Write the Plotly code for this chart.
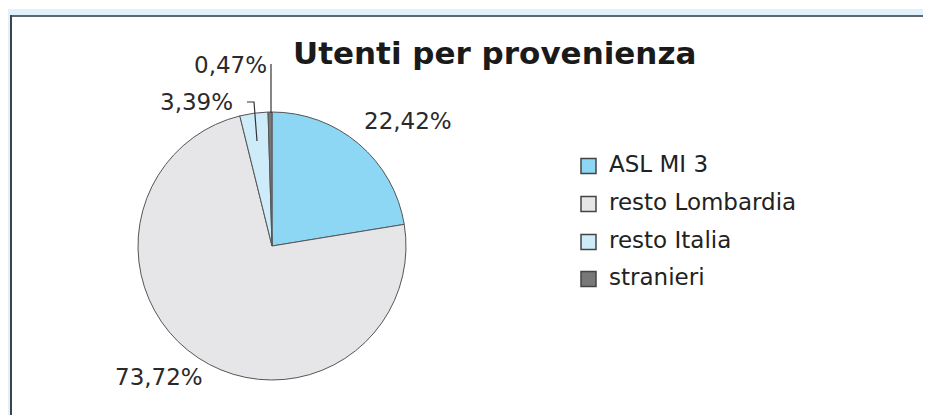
import math
import plotly.graph_objects as go

categories = ["ASL MI 3", "resto Lombardia", "resto Italia", "stranieri"]
shares = [22.42, 73.72, 3.39, 0.47]
label_texts = ["22,42%", "73,72%", "3,39%", "0,47%"]
colors = ["#8DD7F4", "#E6E6E8", "#CDEBF9", "#787878"]

# page body has an 8px default margin -> work in figure pixels
OFF = 8
W, H = 931 - OFF, 415 - OFF


def fx(x):
    return (x - OFF) / W


def fy(y):
    return 1 - (y - OFF) / H


cx, cy, r = 272, 246, 134  # pie centre/radius in screen px

fig = go.Figure(go.Pie(
    labels=categories,
    values=shares,
    textinfo="none",
    sort=False,
    direction="clockwise",
    rotation=0,
    marker=dict(colors=colors, line=dict(color="#555555", width=1)),
    domain=dict(x=[fx(cx - r), fx(cx + r)], y=[fy(cy + r), fy(cy - r)]),
    hoverinfo="label+percent",
    showlegend=False,
))

shapes = [
    # light-blue outer frame band
    dict(type="rect", xref="paper", yref="paper", x0=0, x1=1, y0=fy(15), y1=fy(9),
         fillcolor="#DFF1FB", line=dict(width=0), layer="below"),
    dict(type="rect", xref="paper", yref="paper", x0=0, x1=fx(10), y0=0, y1=fy(9),
         fillcolor="#DFF1FB", line=dict(width=0), layer="below"),
    # dark inner border
    dict(type="rect", xref="paper", yref="paper", x0=fx(10), x1=1, y0=fy(17), y1=fy(15),
         fillcolor="#5F666E", line=dict(width=0)),
    dict(type="rect", xref="paper", yref="paper", x0=fx(10), x1=fx(12), y0=0, y1=fy(15),
         fillcolor="#3E4349", line=dict(width=0)),
]

annotations = [dict(text="<b>Utenti per provenienza</b>", xref="paper", yref="paper",
                    x=fx(494), y=fy(66), xanchor="center", yanchor="bottom", yshift=-7,
                    showarrow=False,
                    font=dict(family="DejaVu Sans", size=31, color="#1a1a1a"))]

# percentage labels (screen px centres)
label_pos = [(408, 121), (159, 377), (196, 102), (230, 65)]
for txt, (lx, ly) in zip(label_texts, label_pos):
    annotations.append(dict(text=txt, xref="paper", yref="paper", x=fx(lx), y=fy(ly),
                            xanchor="center", yanchor="middle", showarrow=False,
                            font=dict(family="DejaVu Sans", size=23, color="#2a2a2a")))

# leader lines for the two small slices
lead = [
    [(247, 102), (254, 102), (257, 141)],
    [(271, 64), (271, 113)],
]
for pts in lead:
    path = "M " + " L ".join(f"{fx(x)},{fy(y)}" for x, y in pts)
    shapes.append(dict(type="path", xref="paper", yref="paper", path=path,
                       line=dict(color="#333333", width=1.2)))

# legend
leg_x0, leg_sz = 581, 15
leg_rows = [166, 204, 242, 279]
for cat, col, ry in zip(categories, colors, leg_rows):
    shapes.append(dict(type="rect", xref="paper", yref="paper",
                       x0=fx(leg_x0), x1=fx(leg_x0 + leg_sz),
                       y0=fy(ry + leg_sz / 2), y1=fy(ry - leg_sz / 2),
                       fillcolor=col, line=dict(color="#444444", width=1.5)))
    annotations.append(dict(text=cat, xref="paper", yref="paper", x=fx(607), y=fy(ry - 2),
                            xanchor="left", yanchor="middle", showarrow=False,
                            font=dict(family="DejaVu Sans", size=23, color="#222222")))

fig.update_layout(
    width=W, height=H,
    margin=dict(l=0, r=0, t=0, b=0),
    paper_bgcolor="white",
    plot_bgcolor="white",
    shapes=shapes,
    annotations=annotations,
    showlegend=False,
)

fig.write_html("out.html")
